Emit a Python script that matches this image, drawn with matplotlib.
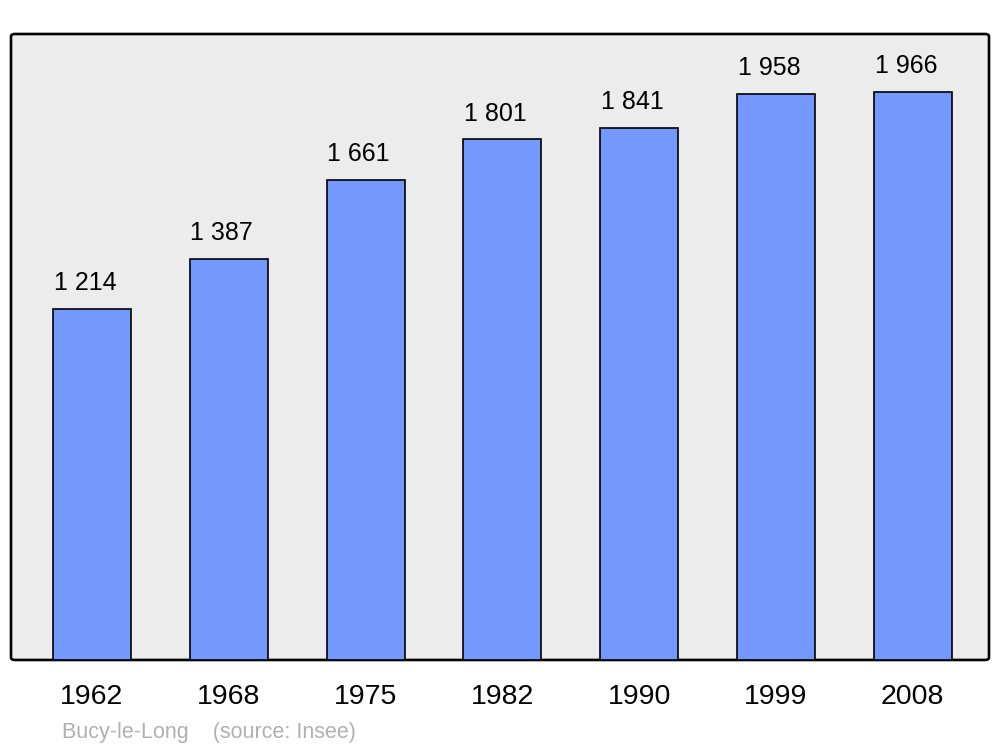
import matplotlib
matplotlib.use("Agg")
import matplotlib.pyplot as plt
from matplotlib.patches import FancyBboxPatch

years = ["1962", "1968", "1975", "1982", "1990", "1999", "2008"]
population = [1214, 1387, 1661, 1801, 1841, 1958, 1966]
commune = "Bucy-le-Long"
source = "(source: Insee)"

plt.rcParams['font.family'] = ['Liberation Sans', 'DejaVu Sans']

fig = plt.figure(figsize=(10, 7.47), dpi=100)
ax = fig.add_axes([0.011, 0.1165, 0.978, 0.838])
ax.set_facecolor('none')
for s in ax.spines.values():
    s.set_visible(False)

# rounded frame behind everything
frame = FancyBboxPatch((0, 0), 1, 1, boxstyle="round,pad=0,rounding_size=0.004",
                       transform=ax.transAxes, facecolor='#ececec',
                       edgecolor='black', linewidth=1.9, zorder=0, clip_on=False)
ax.add_patch(frame)

x = list(range(len(years)))
ax.bar(x, population, width=0.57, color='#7399ff', edgecolor='black',
       linewidth=1.2, zorder=2)

for xi, v in zip(x, population):
    ax.annotate(f"{v:,}".replace(",", " "), (xi, v), xytext=(-5, 10),
                textcoords='offset points', ha='center', va='bottom',
                fontsize=18)

ax.set_xlim(-0.592, 6.557)
ax.set_ylim(0, 2166)
ax.set_xticks(x)
ax.set_xticklabels(years, fontsize=20.5)
ax.tick_params(axis='x', length=0, pad=17)
ax.set_yticks([])

fig.text(0.062, 0.012, commune + "    " + source, fontsize=15.5,
         color='#b0b0b0', ha='left', va='baseline')

fig.savefig("out.png", dpi=100)
